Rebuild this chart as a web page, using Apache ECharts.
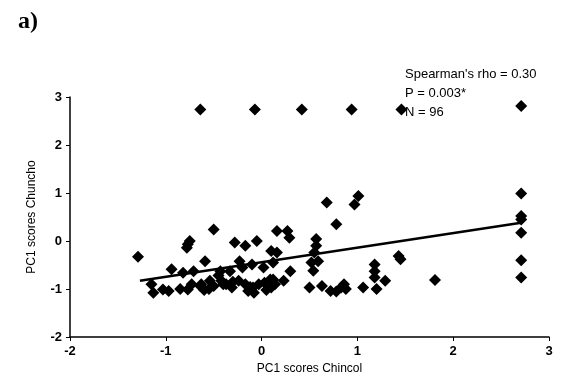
<!DOCTYPE html>
<html><head><meta charset="utf-8">
<script src="https://cdn.jsdelivr.net/npm/echarts@6/dist/echarts.min.js"></script>
<style>html,body{margin:0;padding:0;background:#fff}#c{width:569px;height:392px}</style>
</head><body><div id="c"></div>
<script>
var xValues = [
 -0.64,-0.07,0.42,0.94,1.46,2.71,
 2.71,2.71,2.71,2.71,2.71,2.71,
 1.81,1.43,1.45,
 0.97,1.01,1.18,1.18,1.18,1.29,1.20,1.06,
 0.86,0.88,0.83,
 0.68,0.78,0.72,0.78,0.63,0.50,
 0.57,0.57,0.55,0.59,0.52,0.54,
 0.16,0.27,0.29,0.10,0.16,0.12,0.30,0.23,0.12,0.10,
 -0.50,-0.28,-0.17,-0.05,-0.59,-0.23,-0.10,
 -0.63,-0.54,-0.50,-0.42,-0.37,-0.31,-0.24,-0.17,-0.14,-0.09,-0.03,0.03,0.09,0.14,0.05,
 -0.43,-0.33,
 -1.29,-1.15,-1.13,-1.03,-0.97,-0.94,-0.82,-0.77,-0.75,-0.78,-0.77,-0.71,-0.64,-0.73,
 -0.45,-0.20,-0.55,-0.12,-0.30,-0.85,-0.08,0.02,-0.60,-0.40
];
var yValues = [
 2.74,2.74,2.74,2.74,2.74,2.81,
 0.99,0.52,0.45,0.17,-0.40,-0.76,
 -0.81,-0.31,-0.38,
 0.76,0.94,-0.49,-0.63,-0.76,-0.83,-1.00,-0.97,
 -0.90,-1.00,-0.97,
 0.80,0.35,-1.04,-1.05,-0.94,-0.97,
 0.04,-0.10,-0.24,-0.42,-0.45,-0.62,
 0.21,0.21,0.07,-0.21,-0.24,-0.45,-0.63,-0.83,-0.80,-0.97,
 0.24,-0.03,-0.10,0.00,-0.42,-0.42,-0.49,
 -0.90,-0.83,-0.94,-0.83,-0.90,-0.97,-0.83,-0.90,-1.04,-0.97,-0.90,-0.87,-0.80,-0.90,-1.02,
 -0.63,-0.63,
 -0.33,-0.90,-1.08,-1.01,-1.04,-0.59,-0.66,-0.07,0.00,-0.14,-1.01,-0.63,-0.94,-0.90,
 -0.72,-0.55,-1.00,-0.96,-0.85,-1.00,-1.08,-0.55,-1.02,-0.90
];
var fitX = [-1.27, 2.71];
var fitY = [-0.83, 0.38];
var xTicks = [-2,-1,0,1,2,3];
var yTicks = [-2,-1,0,1,2,3];
var statLines = ["Spearman's rho = 0.30", "P = 0.003*", "N = 96"];
var panelLabel = "a)";
var xTitle = "PC1 scores Chincol";
var yTitle = "PC1 scores Chuncho";

var pts = xValues.map(function(x,i){return [x, yValues[i]];});
var fit = fitX.map(function(x,i){return [x, fitY[i]];});
var font = "'Liberation Sans', Arial, sans-serif";
var chart = echarts.init(document.getElementById('c'), null, {renderer:'canvas'});
chart.setOption({
  animation:false,
  backgroundColor:'#fff',
  grid:{left:70,right:20,top:97,bottom:55,containLabel:false},
  xAxis:{type:'value',min:xTicks[0],max:xTicks[xTicks.length-1],interval:1,
    name:xTitle,nameLocation:'middle',nameGap:26,
    nameTextStyle:{color:'#000',fontFamily:font,fontSize:12},
    axisLine:{show:true,onZero:false,lineStyle:{color:'#000',width:1.5}},
    axisTick:{show:true,length:4,lineStyle:{color:'#000'}},
    axisLabel:{color:'#000',fontFamily:font,fontSize:13,fontWeight:'bold',margin:8},
    splitLine:{show:false}},
  yAxis:{type:'value',min:yTicks[0],max:yTicks[yTicks.length-1],interval:1,
    name:yTitle,nameLocation:'middle',nameGap:32,
    nameTextStyle:{color:'#000',fontFamily:font,fontSize:12},
    axisLine:{show:true,onZero:false,lineStyle:{color:'#000',width:1.5}},
    axisTick:{show:true,length:4,lineStyle:{color:'#000'}},
    axisLabel:{color:'#000',fontFamily:font,fontSize:13,fontWeight:'bold',margin:8},
    splitLine:{show:false}},
  series:[
    {type:'scatter',data:pts,symbol:'diamond',symbolSize:12,
      itemStyle:{color:'#000',opacity:1}},
    {type:'line',data:fit,symbol:'none',lineStyle:{color:'#000',width:2.5},z:3}
  ],
  graphic:[
    {type:'text',left:18,top:10,style:{text:panelLabel,font:"bold 24px 'Liberation Serif', 'Times New Roman', serif",fill:'#000'}},
    {type:'text',left:405,top:65,style:{text:statLines.join('\n'),font:"13px "+font,lineHeight:19,fill:'#000'}}
  ]
});
</script></body></html>
